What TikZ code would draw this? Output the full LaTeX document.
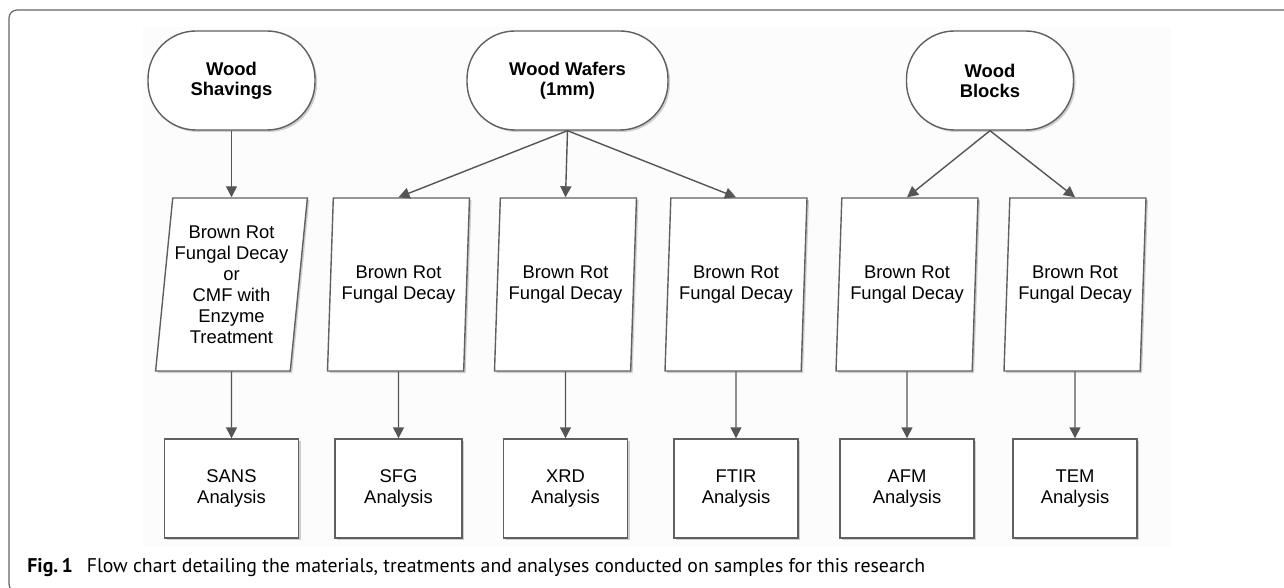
\documentclass[tikz,border=0pt]{standalone}
\usepackage{fontspec}
\setmainfont{Liberation Sans}
\newfontfamily\capfont{PT Sans}
\usetikzlibrary{arrows.meta,shapes.geometric,shadows}

\definecolor{linegray}{HTML}{606060}
\definecolor{arrowgray}{HTML}{555555}
\tikzset{
  softshadow/.style={drop shadow={shadow xshift=1pt,shadow yshift=-1pt,opacity=.3,fill=black!60}},
  source/.style={draw=linegray, fill=white, line width=0.7pt, rounded corners=24pt,
    minimum width=83.5pt, minimum height=49.5pt, align=center, softshadow,
    font=\bfseries\fontsize{9.2}{10}\selectfont},
  decay/.style={trapezium, trapezium left angle=82, trapezium right angle=98,
    trapezium stretches body=true, draw=linegray, fill=white, line width=0.7pt,
    minimum width=71pt, minimum height=86.5pt, inner sep=1pt, align=center, softshadow,
    font=\fontsize{9.2}{10.5}\selectfont},
  result/.style={draw=linegray, fill=white, line width=0.7pt, minimum width=62pt,
    minimum height=49.5pt, align=center, softshadow, font=\fontsize{9.2}{10.5}\selectfont},
  flow/.style={draw=arrowgray, line width=0.7pt, -{Triangle[length=5.5pt,width=5.5pt]}}
}

\begin{document}
\begin{tikzpicture}[x=0.5pt,y=-0.5pt]
\useasboundingbox (0,0) rectangle (1284,588);
\fill[black!1] (143,27) rectangle (1171,547);
\draw[rounded corners=4pt, black!60, line width=0.6pt] (9,10) rectangle (1320,592);

\node[source] (shav) at (231.5,80.5) {Wood\\Shavings};
\node[source, minimum width=100.5pt] (wafer) at (567.5,80.5) {Wood Wafers\\(1mm)};
\node[source] (block) at (990,80.5) {Wood\\Blocks};

\node[decay] (rot1) at (231.5,284.5) {Brown Rot\\Fungal Decay\\or\\CMF with\\Enzyme\\Treatment};
\node[decay] (rot2) at (398.5,284.5) {Brown Rot\\Fungal Decay};
\node[decay] (rot3) at (565.5,284.5) {Brown Rot\\Fungal Decay};
\node[decay] (rot4) at (736,284.5) {Brown Rot\\Fungal Decay};
\node[decay] (rot5) at (907,284.5) {Brown Rot\\Fungal Decay};
\node[decay] (rot6) at (1075,284.5) {Brown Rot\\Fungal Decay};

\node[result, minimum width=67pt] (sans) at (231.5,488.5) {SANS\\Analysis};
\node[result, minimum width=63.5pt] (sfg) at (398.5,488.5) {SFG\\Analysis};
\node[result] (xrd) at (565.5,488.5) {XRD\\Analysis};
\node[result] (ftir) at (736,488.5) {FTIR\\Analysis};
\node[result, minimum width=67pt] (afm) at (907,488.5) {AFM\\Analysis};
\node[result] (tem) at (1075,488.5) {TEM\\Analysis};

\draw[flow] (shav) -- (rot1);
\foreach \r in {rot2, rot3, rot4} \draw[flow] (wafer.south) -- (\r.north);
\foreach \r in {rot5, rot6} \draw[flow] (block.south) -- (\r.north);
\foreach \r/\a in {rot1/sans, rot2/sfg, rot3/xrd, rot4/ftir, rot5/afm, rot6/tem}
  \draw[flow] (\r.south) -- (\a.north);

\node[anchor=west, inner sep=0pt] (caption) at (27,568)
  {\capfont\fontsize{9.9}{11}\selectfont\textbf{Fig.\,1}\hspace{7pt}Flow chart detailing the materials, treatments and analyses conducted on samples for this research};
\end{tikzpicture}
\end{document}
